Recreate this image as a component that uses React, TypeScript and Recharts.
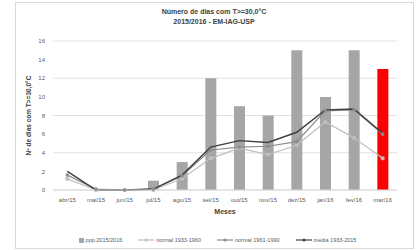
import { ComposedChart, Bar, Line, XAxis, YAxis, CartesianGrid, Cell } from "recharts";

const months = ["abr/15", "mai/15", "jun/15", "jul/15", "ago/15", "set/15", "out/15", "nov/15", "dez/15", "jan/16", "fev/16", "mar/16"];
const obs = [0, 0, 0, 1, 3, 12, 9, 8, 15, 10, 15, 13];
const normal1933 = [1.2, 0, 0, 0, 1.2, 3.4, 4.5, 3.8, 4.8, 7.3, 5.6, 3.4];
const normal1961 = [1.6, 0.1, 0, 0.1, 1.5, 4.3, 4.6, 4.7, 5.2, 8.5, 8.6, 6.0];
const media = [2.0, 0, 0, 0.1, 1.6, 4.6, 5.3, 5.1, 6.2, 8.6, 8.7, 6.1];
const yTicks = [0, 2, 4, 6, 8, 10, 12, 14, 16];

const data = months.map((m, i) => ({
  month: m,
  obs: obs[i],
  n1: normal1933[i],
  n2: normal1961[i],
  med: media[i],
}));

const font = "'Liberation Sans', Arial, sans-serif";
const tick = { fill: "#595959", fontSize: 6, fontFamily: font };

export default function App() {
  return (
    <div style={{ position: "absolute", left: 0, top: 0, width: 419, height: 250, background: "#fff", fontFamily: font }}>
      <div style={{ position: "absolute", left: 15, top: 2, width: 397, height: 245, border: "1px solid #d9d9d9" }} />
      <div style={{ position: "absolute", left: 15, width: 398, top: 7, textAlign: "center", fontSize: 7, fontWeight: "bold", color: "#404040", lineHeight: "10px" }}>
        Número de dias com T&gt;=30,0°C
        <br />
        2015/2016 - EM-IAG-USP
      </div>
      <div style={{ position: "absolute", left: 0, top: 0 }}>
        <ComposedChart width={419} height={250} data={data} margin={{ top: 41, right: 22, bottom: 30, left: 15 }}>
          <CartesianGrid vertical={false} stroke="#d9d9d9" strokeWidth={0.8} />
          <XAxis
            dataKey="month"
            tick={tick}
            tickLine={false}
            axisLine={{ stroke: "#d9d9d9" }}
            height={30}
            interval={0}
            label={{ value: "Meses", position: "insideBottom", offset: 6, fontSize: 7, fontWeight: "bold", fill: "#404040", fontFamily: font }}
          />
          <YAxis
            domain={[0, 16]}
            ticks={yTicks}
            tick={tick}
            tickLine={false}
            axisLine={false}
            width={38}
            label={{ value: "Nº de dias com T>=30,0°C", angle: -90, position: "insideLeft", offset: 14, fontSize: 6.5, fontWeight: "bold", fill: "#404040", fontFamily: font, style: { textAnchor: "middle" } }}
          />
          <Bar dataKey="obs" barSize={11} isAnimationActive={false}>
            {data.map((d, i) => (
              <Cell key={d.month} fill={i === data.length - 1 ? "#ff0000" : "#a6a6a6"} />
            ))}
          </Bar>
          <Line dataKey="n1" stroke="#bfbfbf" strokeWidth={1.2} dot={{ r: 1.5, fill: "#bfbfbf", stroke: "#bfbfbf" }} isAnimationActive={false} />
          <Line dataKey="n2" stroke="#8c8c8c" strokeWidth={1.2} dot={{ r: 1.2, fill: "#8c8c8c", stroke: "#8c8c8c" }} isAnimationActive={false} />
          <Line dataKey="med" stroke="#404040" strokeWidth={1.4} dot={false} isAnimationActive={false} />
        </ComposedChart>
      </div>
      <div style={{ position: "absolute", top: 237, left: 0, width: 419, display: "flex", justifyContent: "center", gap: 16, fontSize: 5.5, color: "#595959", alignItems: "center", paddingLeft: 8 }}>
        <span style={{ display: "flex", alignItems: "center", gap: 2 }}>
          <span style={{ width: 5, height: 5, background: "#a6a6a6", display: "inline-block" }} />
          ppp.2015/2016
        </span>
        {[
          { name: "normal 1933-1960", color: "#bfbfbf" },
          { name: "normal 1961-1990", color: "#8c8c8c" },
          { name: "média 1933-2015", color: "#404040" },
        ].map((s) => (
          <span key={s.name} style={{ display: "flex", alignItems: "center", gap: 2 }}>
            <svg width={16} height={6}>
              <line x1={0} y1={3} x2={16} y2={3} stroke={s.color} strokeWidth={1.2} />
              <circle cx={8} cy={3} r={1.5} fill={s.color} />
            </svg>
            {s.name}
          </span>
        ))}
      </div>
    </div>
  );
}
